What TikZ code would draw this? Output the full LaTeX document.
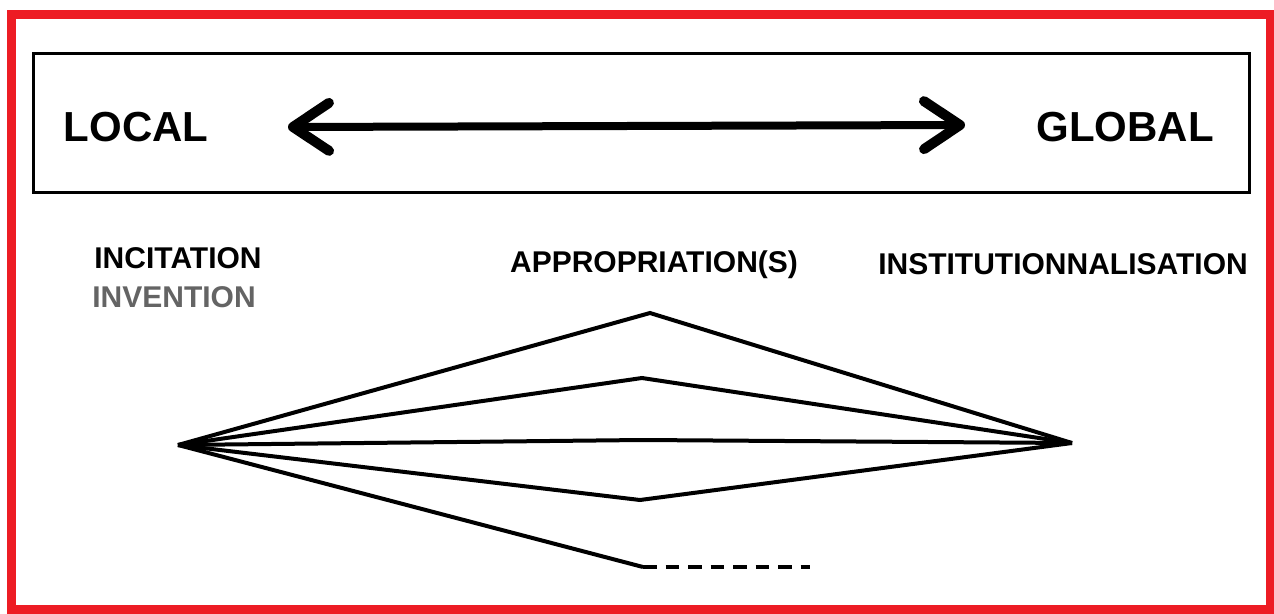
\documentclass[tikz,border=0pt]{standalone}
\usepackage{fontspec}
\setmainfont{Liberation Sans}
\usetikzlibrary{arrows.meta}
\definecolor{frame}{RGB}{237,28,36}
\definecolor{invgray}{RGB}{100,100,100}
\begin{document}
\begin{tikzpicture}[x=1pt,y=-1pt,
  big/.style={font=\fontsize{42}{48}\selectfont\bfseries, inner sep=0pt, anchor=center},
  lab/.style={font=\fontsize{30}{36}\selectfont\bfseries, inner sep=0pt, anchor=center},
  fan/.style={line width=4pt, line join=miter},
  dbl/.style={line width=8pt, line cap=round,
    {Straight Barb[length=36pt,width=48pt,round,line width=10pt]}-{Straight Barb[length=36pt,width=48pt,round,line width=10pt]}}]
\useasboundingbox (0,0) rectangle (1274,613);
\fill[white] (0,0) rectangle (1274,613);
% red frame
\draw[frame, line width=9pt] (11.5,14) rectangle (1270,609);
% black box
\draw[black, line width=3pt] (33.5,53.5) rectangle (1249.5,192.5);
\node[big] (local) at (136,127) {LOCAL};
\node[big] (global) at (1125,127) {GLOBAL};
\coordinate (al) at (288,127);
\coordinate (ar) at (965,125);
\draw[dbl] (al) -- (ar);
% labels
\node[lab] (incit) at (178,258) {INCITATION};
\node[lab, text=invgray] (inven) at (174,297.5) {INVENTION};
\node[lab] (appro) at (654,265) {APPROPRIATION(S)};
\node[lab] (instit) at (1063,264) {INSTITUTIONNALISATION};
% fan
\coordinate (L) at (178,445);
\coordinate (R) at (1072,443);
\coordinate (p1) at (650,313);
\coordinate (p2) at (642,378);
\coordinate (p3) at (642,440);
\coordinate (p4) at (640,500);
\coordinate (p5) at (643,567);
\coordinate (p6) at (810,567);
\draw[fan] (L) -- (p1) -- (R);
\draw[fan] (L) -- (p2) -- (R);
\draw[fan] (L) -- (p3) -- (R);
\draw[fan] (L) -- (p4) -- (R);
\draw[fan] (L) -- (p5);
\draw[fan, dash pattern=on 13.5pt off 9pt] (p5) -- (p6);
\end{tikzpicture}
\end{document}
